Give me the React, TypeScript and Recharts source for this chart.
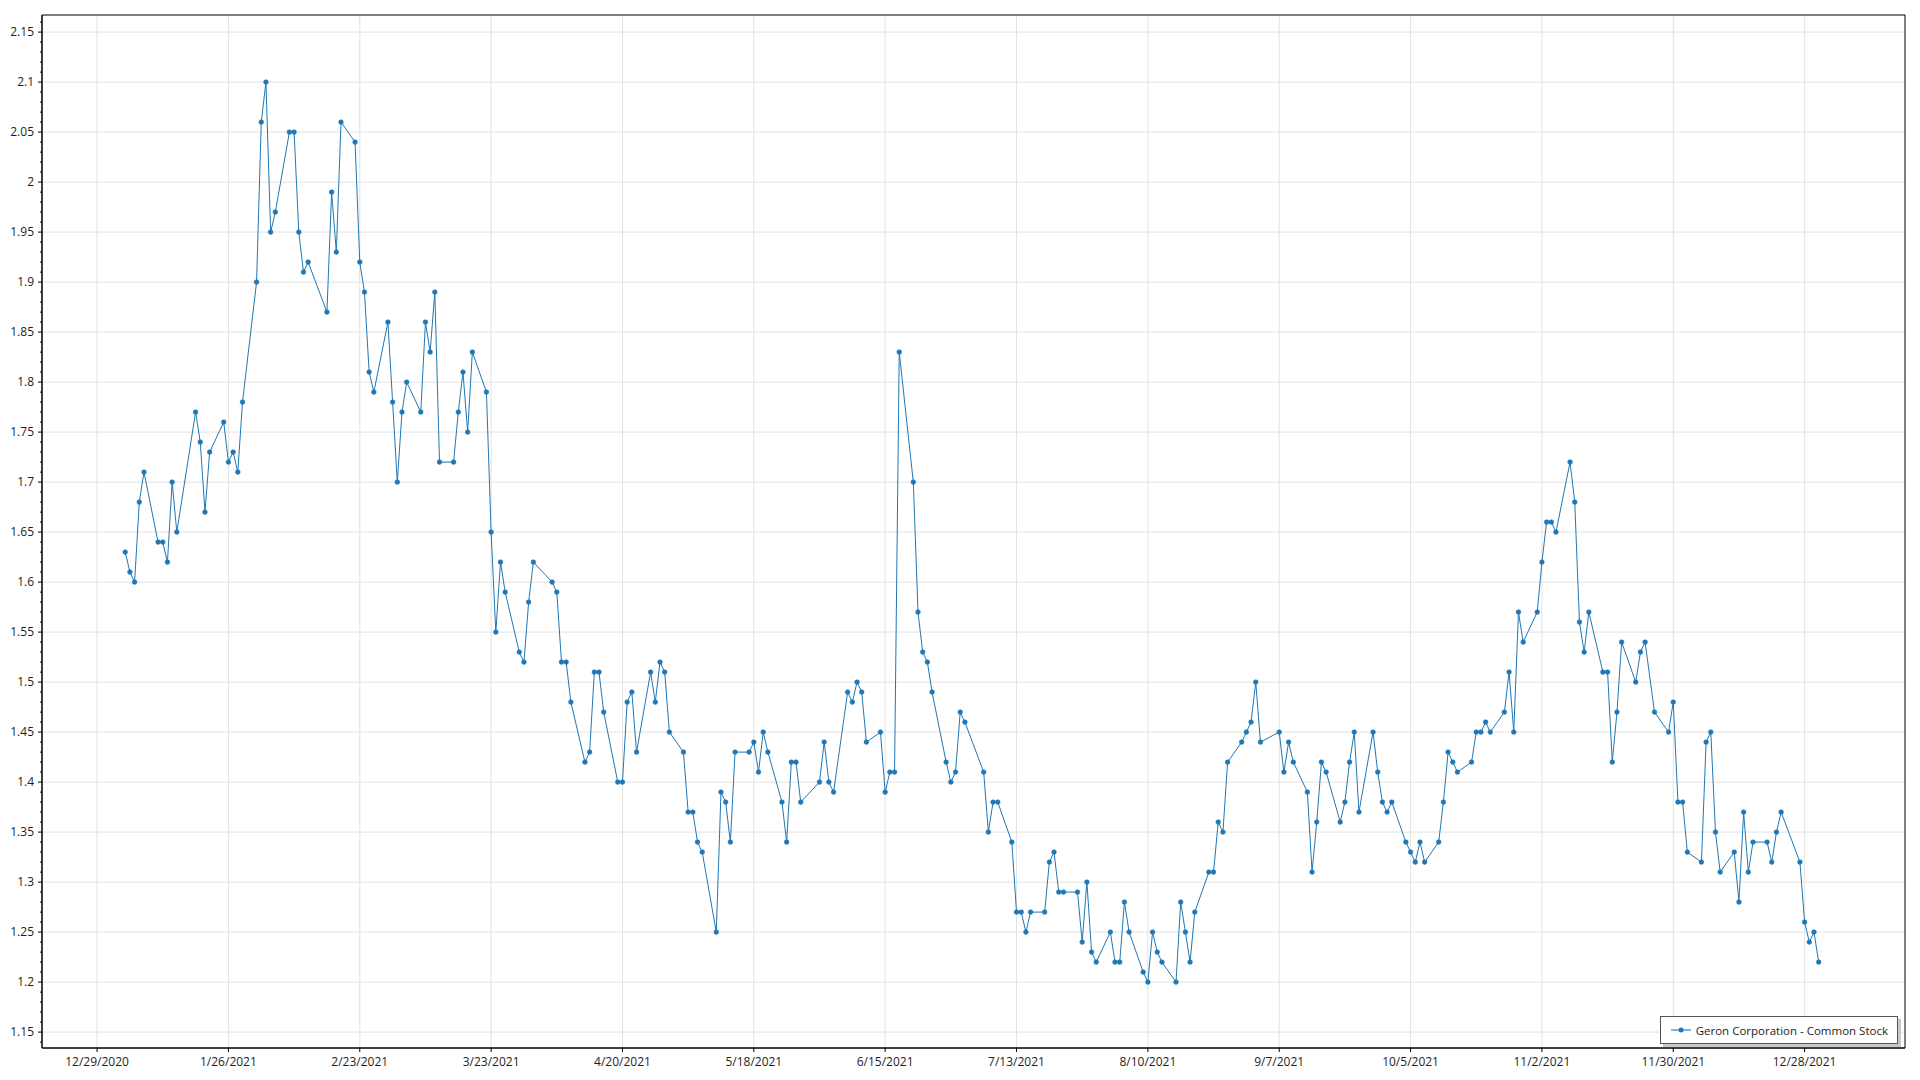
import React from 'react';
import { LineChart, Line, XAxis, YAxis, CartesianGrid, ReferenceArea, Legend } from 'recharts';

const SERIES_NAME = 'Geron Corporation - Common Stock';

// NYSE holidays falling on weekdays in 2021 (no trading)
const HOLIDAYS = ['2021-01-01', '2021-01-18', '2021-02-15', '2021-04-02', '2021-05-31', '2021-07-05', '2021-09-06', '2021-11-25', '2021-12-24'];

// Daily closing prices, one per trading day of 2021 (in order)
const closes = [
  // Jan
  1.63, 1.61, 1.60, 1.68, 1.71,
  1.64, 1.64, 1.62, 1.70, 1.65,
  1.77, 1.74, 1.67, 1.73,
  1.76, 1.72, 1.73, 1.71, 1.78,
  // Feb
  1.90, 2.06, 2.10, 1.95, 1.97,
  2.05, 2.05, 1.95, 1.91, 1.92,
  1.87, 1.99, 1.93, 2.06,
  2.04, 1.92, 1.89, 1.81, 1.79,
  // Mar
  1.86, 1.78, 1.70, 1.77, 1.80,
  1.77, 1.86, 1.83, 1.89, 1.72,
  1.72, 1.77, 1.81, 1.75, 1.83,
  1.79, 1.65, 1.55, 1.62, 1.59,
  1.53, 1.52, 1.58, 1.62,
  // Apr
  1.60, 1.59, 1.52, 1.52, 1.48,
  1.42, 1.43, 1.51, 1.51, 1.47,
  1.40, 1.40, 1.48, 1.49, 1.43,
  1.51, 1.48, 1.52, 1.51, 1.45,
  // May
  1.43, 1.37, 1.37, 1.34, 1.33,
  1.25, 1.39, 1.38, 1.34, 1.43,
  1.43, 1.44, 1.41, 1.45, 1.43,
  1.38, 1.34, 1.42, 1.42, 1.38,
  // Jun
  1.40, 1.44, 1.40, 1.39,
  1.49, 1.48, 1.50, 1.49, 1.44,
  1.45, 1.39, 1.41, 1.41, 1.83,
  1.70, 1.57, 1.53, 1.52, 1.49,
  1.42, 1.40, 1.41, 1.47, 1.46,
  // Jul
  1.41, 1.35, 1.38, 1.38,
  1.34, 1.27, 1.27, 1.25, 1.27,
  1.27, 1.32, 1.33, 1.29, 1.29,
  1.29, 1.24, 1.30, 1.23, 1.22,
  // Aug
  1.25, 1.22, 1.22, 1.28, 1.25,
  1.21, 1.20, 1.25, 1.23, 1.22,
  1.20, 1.28, 1.25, 1.22, 1.27,
  1.31, 1.31, 1.36, 1.35, 1.42,
  1.44, 1.45, 1.46, 1.50, 1.44,
  // Sep
  1.45, 1.41, 1.44, 1.42,
  1.39, 1.31, 1.36, 1.42, 1.41,
  1.36, 1.38, 1.42, 1.45, 1.37,
  1.45, 1.41, 1.38, 1.37, 1.38,
  // Oct
  1.34, 1.33, 1.32, 1.34, 1.32,
  1.34, 1.38, 1.43, 1.42, 1.41,
  1.42, 1.45, 1.45, 1.46, 1.45,
  1.47, 1.51, 1.45, 1.57, 1.54,
  // Nov
  1.57, 1.62, 1.66, 1.66, 1.65,
  1.72, 1.68, 1.56, 1.53, 1.57,
  1.51, 1.51, 1.42, 1.47, 1.54,
  1.50, 1.53, 1.54, 1.47,
  1.45, 1.48, 1.38, 1.38, 1.33,
  // Dec
  1.32, 1.44, 1.45, 1.35, 1.31,
  1.33, 1.28, 1.37, 1.31, 1.34,
  1.34, 1.32, 1.35, 1.37,
  1.32, 1.26, 1.24, 1.25, 1.22,
];

const X_TICK_LABELS = [
  '12/29/2020', '1/26/2021', '2/23/2021', '3/23/2021', '4/20/2021', '5/18/2021', '6/15/2021',
  '7/13/2021', '8/10/2021', '9/7/2021', '10/5/2021', '11/2/2021', '11/30/2021', '12/28/2021',
];

const X_TICK_STEP_DAYS = 28;
const X_DOMAIN: [number, number] = [-11.74, 385.4];
const Y_DOMAIN: [number, number] = [1.1341, 2.1671];

const DAY_MS = 86400000;
const ORIGIN = Date.UTC(2020, 11, 29);

function tradingDays(): number[] {
  const out: number[] = [];
  for (let t = Date.UTC(2021, 0, 1); t <= Date.UTC(2021, 11, 31); t += DAY_MS) {
    const d = new Date(t);
    const wd = d.getUTCDay();
    if (wd === 0 || wd === 6) continue;
    const iso = d.toISOString().slice(0, 10);
    if (HOLIDAYS.includes(iso)) continue;
    out.push(Math.round((t - ORIGIN) / DAY_MS));
  }
  return out;
}

const days = tradingDays();
const data = closes.map((c, i) => ({ day: days[i], close: c }));

const xTicks = X_TICK_LABELS.map((_, i) => i * X_TICK_STEP_DAYS);
const xLabelFor = (v: number) => X_TICK_LABELS[Math.round(v / X_TICK_STEP_DAYS)] ?? '';

const yTicks: number[] = [];
for (let k = Math.ceil(Y_DOMAIN[0] * 100); k <= Math.floor(Y_DOMAIN[1] * 100); k++) yTicks.push(k / 100);
const yMajor = yTicks.filter((v) => Math.round(v * 100) % 5 === 0);

const FONT = "'Open Sans', 'Noto Sans', sans-serif";
const TEXT = '#1e1e1e';
const BLUE = '#1f77b4';

const fmtY = (v: number) => String(Number(v.toFixed(2)));

const YTick = (props: any) => {
  const { x, y, payload } = props;
  const v = payload.value as number;
  const major = Math.round(v * 100) % 5 === 0;
  const axisX = x + 8;
  return (
    <g>
      <line x1={axisX - (major ? 4 : 2)} x2={axisX} y1={y} y2={y} stroke="#000" strokeWidth={1} />
      {major && (
        <text x={x} y={y} dy="0.355em" textAnchor="end" fontSize={12} fill={TEXT} fontFamily={FONT}>
          {fmtY(v)}
        </text>
      )}
    </g>
  );
};

const LegendBox = (props: any) => {
  const name = props?.payload?.[0]?.value ?? SERIES_NAME;
  return (
    <div
      style={{
        display: 'flex',
        alignItems: 'center',
        background: '#fff',
        border: '1px solid #555',
        boxShadow: '3px 3px 0 #c8c8c8',
        padding: '0 9px 0 10px',
        height: 26,
        fontFamily: FONT,
        fontSize: 11.5,
        color: TEXT,
        whiteSpace: 'nowrap',
      }}
    >
      <svg width={20} height={10} style={{ marginRight: 5 }}>
        <line x1={0} x2={20} y1={5} y2={5} stroke="#82b4da" strokeWidth={2} />
        <circle cx={10} cy={5} r={2.5} fill={BLUE} />
      </svg>
      <span>{name}</span>
    </div>
  );
};

export default function App() {
  return (
    <div style={{ position: 'absolute', left: 0, top: 0, width: 1920, height: 1080, background: '#fff' }}>
      <LineChart width={1920} height={1080} data={data} margin={{ top: 15, right: 15, left: 0, bottom: 0 }}>
        <CartesianGrid stroke="#e2e2e2" strokeWidth={1} horizontalValues={yMajor} verticalValues={xTicks} />
        <XAxis
          dataKey="day"
          type="number"
          domain={X_DOMAIN}
          allowDataOverflow
          ticks={xTicks}
          interval={0}
          tickFormatter={xLabelFor}
          height={32}
          tickSize={4}
          tickMargin={5}
          stroke="#000"
          tickLine={{ stroke: '#000' }}
          axisLine={{ stroke: '#000', strokeWidth: 1 }}
          tick={{ fontSize: 12, fill: TEXT, fontFamily: FONT }}
        />
        <YAxis
          type="number"
          domain={Y_DOMAIN}
          allowDataOverflow
          ticks={yTicks}
          interval={0}
          width={42}
          tickSize={4}
          tickMargin={4}
          tickLine={false}
          axisLine={{ stroke: '#000', strokeWidth: 1 }}
          tick={<YTick />}
        />
        <ReferenceArea
          x1={X_DOMAIN[0]}
          x2={X_DOMAIN[1]}
          y1={Y_DOMAIN[0]}
          y2={Y_DOMAIN[1]}
          fill="none"
          fillOpacity={0}
          stroke="#000"
          strokeWidth={1}
          ifOverflow="visible"
        />
        <Line
          type="linear"
          dataKey="close"
          name={SERIES_NAME}
          stroke={BLUE}
          strokeWidth={1}
          dot={{ r: 2.4, fill: BLUE, stroke: BLUE, strokeWidth: 0.5 }}
          activeDot={false}
          isAnimationActive={false}
        />
        <Legend
          layout="vertical"
          align="center"
          verticalAlign="middle"
          wrapperStyle={{ left: 'auto', right: 22, top: 1016, width: 'auto', height: 'auto' }}
          content={<LegendBox />}
        />
      </LineChart>
    </div>
  );
}
